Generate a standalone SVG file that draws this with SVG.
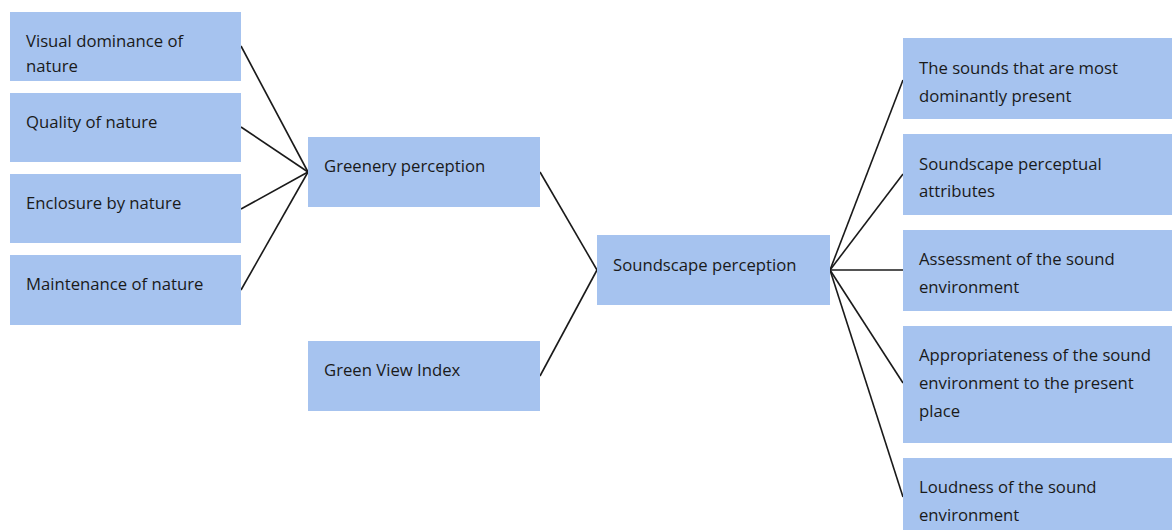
<svg xmlns="http://www.w3.org/2000/svg" width="1172" height="530" viewBox="0 0 1172 530">
<style>
.box{fill:#a6c3ef;}
.t{font-family:"Open Sans","Noto Sans","Liberation Sans",sans-serif;font-size:16.7px;fill:#1a1a1a;}
.c{stroke:#1a1a1a;stroke-width:1.6;fill:none;}
</style>
<rect width="1172" height="530" fill="#ffffff"/>
<g id="connectors">
<line class="c" x1="241" y1="46" x2="308" y2="172"/>
<line class="c" x1="241" y1="127" x2="308" y2="172"/>
<line class="c" x1="241" y1="209" x2="308" y2="172"/>
<line class="c" x1="241" y1="290" x2="308" y2="172"/>
<line class="c" x1="540" y1="172" x2="597" y2="270"/>
<line class="c" x1="540" y1="376" x2="597" y2="270"/>
<line class="c" x1="830" y1="270" x2="903" y2="80"/>
<line class="c" x1="830" y1="270" x2="903" y2="174"/>
<line class="c" x1="830" y1="270" x2="903" y2="270"/>
<line class="c" x1="830" y1="270" x2="903" y2="383"/>
<line class="c" x1="830" y1="270" x2="903" y2="497"/>
</g>
<g id="visual-dominance"><rect class="box" x="10" y="12" width="231" height="69"/><text class="t" x="26" y="47">Visual dominance of</text><text class="t" x="26" y="72">nature</text></g>
<g id="quality"><rect class="box" x="10" y="93" width="231" height="69"/><text class="t" x="26" y="128">Quality of nature</text></g>
<g id="enclosure"><rect class="box" x="10" y="174" width="231" height="69"/><text class="t" x="26" y="209">Enclosure by nature</text></g>
<g id="maintenance"><rect class="box" x="10" y="255" width="231" height="70"/><text class="t" x="26" y="290">Maintenance of nature</text></g>
<g id="greenery"><rect class="box" x="308" y="137" width="232" height="70"/><text class="t" x="324" y="172">Greenery perception</text></g>
<g id="gvi"><rect class="box" x="308" y="341" width="232" height="70"/><text class="t" x="324" y="376">Green View Index</text></g>
<g id="soundscape"><rect class="box" x="597" y="235" width="233" height="70"/><text class="t" x="613" y="271">Soundscape perception</text></g>
<g id="dominant-sounds"><rect class="box" x="903" y="38" width="269" height="81"/><text class="t" x="919" y="74">The sounds that are most</text><text class="t" x="919" y="102">dominantly present</text></g>
<g id="attributes"><rect class="box" x="903" y="134" width="269" height="81"/><text class="t" x="919" y="170">Soundscape perceptual</text><text class="t" x="919" y="197">attributes</text></g>
<g id="assessment"><rect class="box" x="903" y="230" width="269" height="81"/><text class="t" x="919" y="265">Assessment of the sound</text><text class="t" x="919" y="293">environment</text></g>
<g id="appropriateness"><rect class="box" x="903" y="326" width="269" height="117"/><text class="t" x="919" y="361">Appropriateness of the sound</text><text class="t" x="919" y="389">environment to the present</text><text class="t" x="919" y="417">place</text></g>
<g id="loudness"><rect class="box" x="903" y="458" width="269" height="80"/><text class="t" x="919" y="493">Loudness of the sound</text><text class="t" x="919" y="521">environment</text></g>
</svg>
